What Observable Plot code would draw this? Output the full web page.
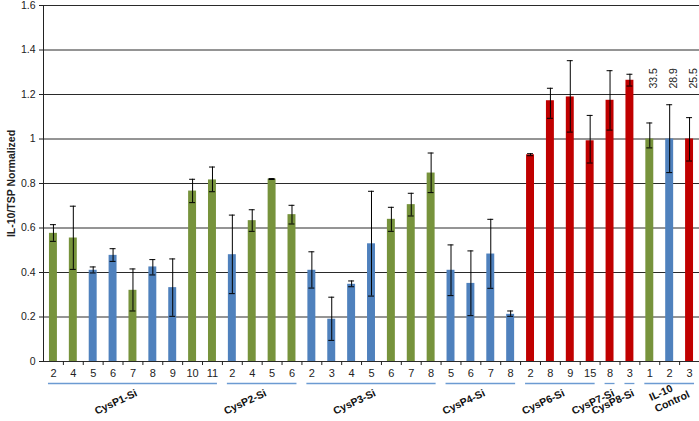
<!DOCTYPE html>
<html>
<head>
<meta charset="utf-8">
<script src="https://cdn.jsdelivr.net/npm/d3@7"></script>
<script src="https://cdn.jsdelivr.net/npm/@observablehq/plot@0.6"></script>
<style>
  html, body { margin: 0; padding: 0; background: #fff; }
  #chart svg { font-family: "Liberation Sans", Arial, sans-serif; }
  g[aria-label="y-axis label"] text { font-weight: bold; }
</style>
</head>
<body>
<div id="chart"></div>
<script>
// ---- data ----
const groupNames = ["CysP1-Si", "CysP2-Si", "CysP3-Si", "CysP4-Si", "CysP6-Si", "CysP7-Si", "CysP8-Si", "IL-10\nControl"];
const groupSizes = [9, 4, 7, 4, 4, 1, 1, 3];
const tickLabels = ["2","4","5","6","7","8","9","10","11",
                    "2","4","5","6",
                    "2","3","4","5","6","7","8",
                    "5","6","7","8",
                    "2","8","9","15",
                    "8",
                    "3",
                    "1","2","3"];
const kinds = ["g","g","b","b","g","b","b","g","g",
               "b","g","g","g",
               "b","b","b","b","g","g","g",
               "b","b","b","b",
               "r","r","r","r",
               "r",
               "r",
               "g","b","r"];
const values = [0.576,0.555,0.410,0.477,0.320,0.425,0.332,0.766,0.816,
                0.480,0.633,0.820,0.660,
                0.410,0.190,0.347,0.529,0.639,0.705,0.847,
                0.410,0.351,0.483,0.212,
                0.929,1.172,1.189,0.992,
                1.174,
                1.264,
                1.000,1.000,1.000];
const errLow = [0.540,0.414,0.398,0.450,0.227,0.389,0.203,0.714,0.763,
                0.305,0.585,0.818,0.618,
                0.330,0.095,0.336,0.294,0.585,0.654,0.759,
                0.296,0.206,0.329,0.203,
                0.925,1.093,1.031,0.892,
                1.040,
                1.238,
                0.960,0.849,0.901];
const errHigh = [0.615,0.698,0.425,0.507,0.416,0.458,0.461,0.819,0.874,
                 0.658,0.682,0.822,0.702,
                 0.493,0.289,0.362,0.765,0.693,0.756,0.937,
                 0.524,0.497,0.639,0.227,
                 0.934,1.228,1.352,1.106,
                 1.307,
                 1.291,
                 1.072,1.154,1.096];
const noteLabels = ["33.5", "28.9", "25.5"];   // over the three control bars
const yTicks = [0, 0.2, 0.4, 0.6, 0.8, 1.0, 1.2, 1.4, 1.6];
const kindDomain = ["g", "b", "r"];
const kindColors = ["#77933c", "#4f81bd", "#c00000"];

// ---- build tables ----
const rows = values.map((v, i) => ({i, v, lo: errLow[i], hi: errHigh[i], kind: kinds[i]}));
let start = 0;
const groups = groupNames.map((name, k) => {
  const g = {name, first: start, last: start + groupSizes[k] - 1, size: groupSizes[k]};
  start += groupSizes[k];
  return g;
});
const controlStart = values.length - noteLabels.length;
const notes = noteLabels.map((t, k) => ({i: controlStart + k, t}));

const W = 699, H = 421, ML = 43, MR = 0, MT = 5, MB = 60;
const step = (W - ML - MR) / values.length;
const ids = d3.range(values.length);

const groupLabelMarks = groups.map(g => {
  const multi = g.name.includes("\n");
  return Plot.text([g], {
    x: d => d.first, y: () => 0,
    text: d => d.name,
    dx: (g.size - 1) / 2 * step + (multi ? -13 : 5),
    dy: multi ? 51 : 34,
    rotate: -25,
    textAnchor: multi ? "start" : "end",
    lineAnchor: "bottom",
    lineHeight: 1.2,
    fontWeight: "bold",
    fontSize: 10.5,
    fill: "#111"
  });
});

const chart = Plot.plot({
  width: W, height: H,
  marginLeft: ML, marginRight: MR, marginTop: MT, marginBottom: MB,
  style: {fontFamily: "'Liberation Sans', Arial, sans-serif", fontSize: "10.5px", color: "#222", background: "#fff"},
  x: {type: "band", domain: ids, paddingInner: 0.6, paddingOuter: 0.3, round: false, axis: null},
  y: {domain: [0, 1.6], axis: null},
  color: {domain: kindDomain, range: kindColors},
  marks: [
    Plot.ruleY(yTicks, {stroke: "#2a2a2a", strokeWidth: 1}),
    Plot.barY(rows, {x: "i", y: "v", fill: "kind"}),
    Plot.ruleX(rows, {x: "i", y1: "lo", y2: "hi", stroke: "#000", strokeWidth: 1}),
    Plot.tickY(rows, {x: "i", y: "lo", stroke: "#000", strokeWidth: 1, insetLeft: 1, insetRight: 1}),
    Plot.tickY(rows, {x: "i", y: "hi", stroke: "#000", strokeWidth: 1, insetLeft: 1, insetRight: 1}),
    Plot.axisY({ticks: yTicks, tickSize: 4, tickPadding: 4, tickFormat: d => String(+d.toFixed(1)),
                fontSize: 10.5, label: "IL-10/TSP Normalized", labelAnchor: "center", labelArrow: "none", labelOffset: 36,
                stroke: "#222"}),
    Plot.frame({anchor: "left", stroke: "#222"}),
    Plot.axisX({ticks: ids, tickSize: 4, tickFormat: () => "", dx: step / 2, stroke: "#222"}),
    Plot.axisX({ticks: ids, tickSize: 0, tickPadding: 8, tickFormat: i => tickLabels[i], fontSize: 11, label: null}),
    Plot.ruleY(groups, {y: () => 0, x1: "first", x2: "last", dy: 22, insetLeft: -1, insetRight: -1, stroke: "#6c9bd2", strokeWidth: 1.3}),
    ...groupLabelMarks,
    Plot.text(notes, {x: "i", text: "t", frameAnchor: "top", dy: 83, rotate: -90, textAnchor: "start", fontSize: 10.5, fill: "#222"})
  ]
});
document.getElementById("chart").appendChild(chart);
</script>
</body>
</html>
